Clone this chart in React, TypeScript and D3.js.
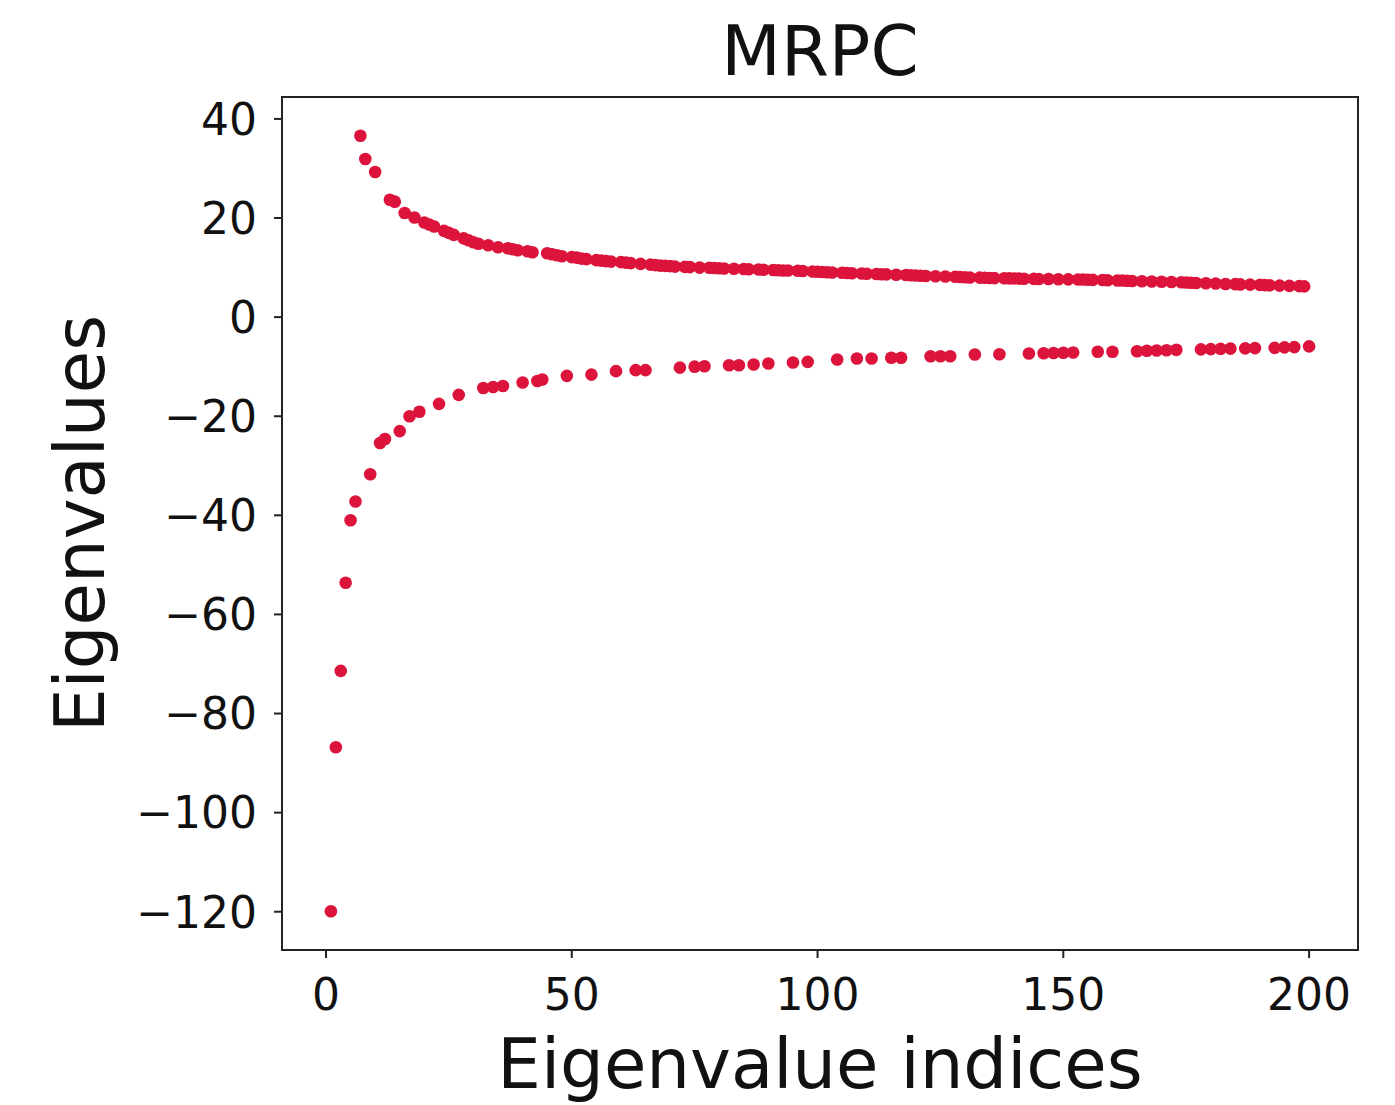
import React from "react";
import * as d3 from "d3";

const title = "MRPC";
const xLabel = "Eigenvalue indices";
const yLabel = "Eigenvalues";
const xTicks = [0, 50, 100, 150, 200];
const yTicks = [40, 20, 0, -20, -40, -60, -80, -100, -120];

const negIdx = [1, 2, 3, 4, 5, 6, 9, 11, 12, 15, 17, 19, 23, 27, 32, 34, 36, 40, 43, 44, 49, 54, 59, 63, 65, 72, 75, 77, 82, 84, 87, 90, 95, 98, 104, 108, 111, 115, 117, 123, 125, 127, 132, 137, 143, 146, 148, 150, 152, 157, 160, 165, 167, 169, 171, 173, 178, 180, 182, 184, 187, 189, 193, 195, 197, 200];
const negVal = [-119.9, -86.8, -71.4, -53.6, -41.0, -37.2, -31.7, -25.4, -24.6, -23.0, -20.0, -19.1, -17.5, -15.7, -14.3, -14.1, -13.9, -13.2, -12.9, -12.6, -11.85, -11.6, -10.9, -10.7, -10.7, -10.2, -10.0, -9.9, -9.7, -9.7, -9.56, -9.36, -9.16, -9.03, -8.56, -8.36, -8.36, -8.2, -8.2, -7.9, -7.9, -7.9, -7.55, -7.5, -7.35, -7.3, -7.25, -7.2, -7.15, -7.0, -7.0, -6.9, -6.8, -6.75, -6.7, -6.6, -6.5, -6.45, -6.4, -6.35, -6.3, -6.25, -6.2, -6.1, -6.05, -5.9];

const posIdx = [7, 8, 10, 13, 14, 16, 18, 20, 21, 22, 24, 25, 26, 28, 29, 30, 31, 33, 35, 37, 38, 39, 41, 42, 45, 46, 47, 48, 50, 51, 52, 53, 55, 56, 57, 58, 60, 61, 62, 64, 66, 67, 68, 69, 70, 71, 73, 74, 76, 78, 79, 80, 81, 83, 85, 86, 88, 89, 91, 92, 93, 94, 96, 97, 99, 100, 101, 102, 103, 105, 106, 107, 109, 110, 112, 113, 114, 116, 118, 119, 120, 121, 122, 124, 126, 128, 129, 130, 131, 133, 134, 135, 136, 138, 139, 140, 141, 142, 144, 145, 147, 149, 151, 153, 154, 155, 156, 158, 159, 161, 162, 163, 164, 166, 168, 170, 172, 174, 175, 176, 177, 179, 181, 183, 185, 186, 188, 190, 191, 192, 194, 196, 198, 199];
const posVal = [36.6, 31.9, 29.3, 23.7, 23.3, 21.0, 20.1, 19.1, 18.7, 18.3, 17.4, 17.0, 16.6, 15.9, 15.5, 15.1, 14.8, 14.5, 14.1, 13.9, 13.7, 13.5, 13.3, 13.1, 12.9, 12.7, 12.5, 12.3, 12.1, 12.0, 11.8, 11.7, 11.5, 11.4, 11.3, 11.2, 11.1, 11.0, 10.9, 10.75, 10.6, 10.5, 10.4, 10.35, 10.3, 10.2, 10.15, 10.1, 10.0, 9.95, 9.9, 9.85, 9.8, 9.75, 9.7, 9.65, 9.6, 9.55, 9.5, 9.45, 9.42, 9.4, 9.35, 9.3, 9.2, 9.15, 9.1, 9.05, 9.0, 8.95, 8.9, 8.85, 8.8, 8.75, 8.7, 8.65, 8.62, 8.55, 8.5, 8.45, 8.4, 8.35, 8.3, 8.25, 8.2, 8.15, 8.1, 8.05, 8.0, 7.98, 7.95, 7.9, 7.88, 7.85, 7.83, 7.8, 7.78, 7.75, 7.72, 7.7, 7.68, 7.65, 7.62, 7.6, 7.58, 7.55, 7.52, 7.5, 7.45, 7.4, 7.38, 7.35, 7.3, 7.25, 7.2, 7.15, 7.1, 7.05, 7.0, 6.95, 6.9, 6.85, 6.8, 6.7, 6.65, 6.6, 6.55, 6.5, 6.45, 6.4, 6.35, 6.3, 6.25, 6.2];

const W = 1395;
const H = 1105;
const left = 282;
const right = 1358;
const top = 97;
const bottom = 950;
const dotColor = "#DC143C";
const font = "DejaVu Sans, sans-serif";

export default function App() {
  const allIdx = [...negIdx, ...posIdx];
  const allVal = [...negVal, ...posVal];
  const [xmin, xmax] = d3.extent(allIdx) as [number, number];
  const [ymin, ymax] = d3.extent(allVal) as [number, number];
  const xm = (xmax - xmin) * 0.05;
  const ym = (ymax - ymin) * 0.05;
  const x = d3.scaleLinear().domain([xmin - xm, xmax + xm]).range([left, right]);
  const y = d3.scaleLinear().domain([ymin - ym, ymax + ym]).range([bottom, top]);

  const points = [
    ...negIdx.map((i, k) => ({ i, v: negVal[k] })),
    ...posIdx.map((i, k) => ({ i, v: posVal[k] })),
  ];
  const fmt = (t: number) => (t < 0 ? "\u2212" + Math.abs(t) : String(t));

  return (
    <svg
      width={W}
      height={H}
      style={{ position: "absolute", left: 0, top: 0, background: "#fff" }}
      fontFamily={font}
    >
      <rect x={0} y={0} width={W} height={H} fill="#fff" />
      {points.map((p, k) => (
        <circle key={k} cx={x(p.i)} cy={y(p.v)} r={6.3} fill={dotColor} />
      ))}
      <rect
        x={left}
        y={top}
        width={right - left}
        height={bottom - top}
        fill="none"
        stroke="#222"
        strokeWidth={2}
      />
      {xTicks.map((t) => (
        <g key={"x" + t}>
          <line x1={x(t)} x2={x(t)} y1={bottom} y2={bottom + 8} stroke="#222" strokeWidth={2} />
          <text x={x(t)} y={1010} textAnchor="middle" fontSize={44} fill="#111">
            {fmt(t)}
          </text>
        </g>
      ))}
      {yTicks.map((t) => (
        <g key={"y" + t}>
          <line x1={left - 8} x2={left} y1={y(t)} y2={y(t)} stroke="#222" strokeWidth={2} />
          <text x={left - 25} y={y(t)} dy="0.36em" textAnchor="end" fontSize={44} fill="#111">
            {fmt(t)}
          </text>
        </g>
      ))}
      <text x={(left + right) / 2} y={75} textAnchor="middle" fontSize={69} fill="#111">
        {title}
      </text>
      <text x={(left + right) / 2} y={1088} textAnchor="middle" fontSize={69} fill="#111">
        {xLabel}
      </text>
      <text
        transform={`translate(104,${(top + bottom) / 2}) rotate(-90)`}
        textAnchor="middle"
        fontSize={69}
        fill="#111"
      >
        {yLabel}
      </text>
    </svg>
  );
}
